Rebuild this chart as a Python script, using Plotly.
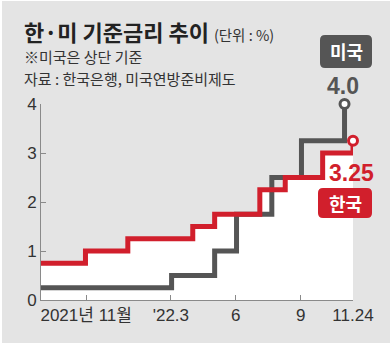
import plotly.graph_objects as go

# ---- data ----
kr_dates = ["2021-08-29", "2021-10-31", "2021-12-30", "2022-04-01", "2022-05-02",
            "2022-07-05", "2022-08-10", "2022-10-02", "2022-11-14"]
kr_rates = [0.75, 1.00, 1.25, 1.50, 1.75, 2.25, 2.50, 3.00, 3.25]

us_dates = ["2021-08-29", "2022-03-02", "2022-05-02", "2022-06-02", "2022-07-22",
            "2022-09-02", "2022-11-02"]
us_rates = [0.25, 0.50, 1.00, 1.75, 2.50, 3.25, 4.00]

x_tickvals = ["2021-11-01", "2022-03-01", "2022-06-01", "2022-09-01", "2022-11-14"]
x_ticktext = ["2021년 11월", "'22.3", "6", "9", "11.24"]
y_tickvals = [0, 1, 2, 3, 4]

title = "한·미 기준금리 추이"
unit = "(단위 : %)"
note = "※미국은 상단 기준"
source = "자료 : 한국은행, 미국연방준비제도"

RED = "#d11f2c"
GRAY = "#555555"
BG = "#e4e4e4"
AX = "#8a8a8a"
NUM_FONT = "Liberation Sans, Arial, Noto Sans CJK KR"
KR_FONT = "Noto Sans CJK KR, Liberation Sans"

W, H = 390, 346
L, R, T, B = 41, 37, 104, 46


def px(x):
    return (x - L) / (W - L - R)


def py(y):
    return (H - B - y) / (H - T - B)


def rrect(x0, y0, x1, y1, r):
    pts = [
        f"M {px(x0 + r)} {py(y0)}",
        f"L {px(x1 - r)} {py(y0)}",
        f"Q {px(x1)} {py(y0)} {px(x1)} {py(y0 + r)}",
        f"L {px(x1)} {py(y1 - r)}",
        f"Q {px(x1)} {py(y1)} {px(x1 - r)} {py(y1)}",
        f"L {px(x0 + r)} {py(y1)}",
        f"Q {px(x0)} {py(y1)} {px(x0)} {py(y1 - r)}",
        f"L {px(x0)} {py(y0 + r)}",
        f"Q {px(x0)} {py(y0)} {px(x0 + r)} {py(y0)}",
        "Z",
    ]
    return " ".join(pts)


fig = go.Figure()

# white area under Korean rate
fig.add_trace(go.Scatter(x=kr_dates, y=kr_rates, mode="lines", line=dict(width=0, shape="hv"),
                         fill="tozeroy", fillcolor="white", hoverinfo="skip", showlegend=False))
# US line
fig.add_trace(go.Scatter(x=us_dates, y=us_rates, mode="lines",
                         line=dict(color=GRAY, width=5, shape="hv"), showlegend=False))
# Korea line
fig.add_trace(go.Scatter(x=kr_dates, y=kr_rates, mode="lines",
                         line=dict(color=RED, width=5, shape="hv"), showlegend=False))
# end markers
fig.add_trace(go.Scatter(x=[us_dates[-1]], y=[us_rates[-1]], mode="markers", cliponaxis=False,
                         marker=dict(size=9, color="white", line=dict(color=GRAY, width=3)),
                         showlegend=False))
fig.add_trace(go.Scatter(x=[kr_dates[-1]], y=[kr_rates[-1]], mode="markers", cliponaxis=False,
                         marker=dict(size=9, color="white", line=dict(color=RED, width=3)),
                         showlegend=False))

shapes = [
    dict(type="rect", xref="paper", yref="paper", x0=px(2), x1=px(392), y0=py(1), y1=py(343),
         fillcolor=BG, line=dict(width=0), layer="below"),
    dict(type="path", xref="paper", yref="paper", path=rrect(320, 35, 372, 68, 5),
         fillcolor=GRAY, line=dict(width=0)),
    dict(type="path", xref="paper", yref="paper", path=rrect(318, 188, 372, 218, 5),
         fillcolor=RED, line=dict(width=0)),
]

annotations = [
    dict(xref="paper", yref="paper", x=px(22), y=py(31), xanchor="left", yanchor="middle",
         text=f"<b>{title}</b> <span style='font-size:14.5px;color:#333'>{unit}</span>",
         showarrow=False, font=dict(family=KR_FONT, size=22, color="#222")),
    dict(xref="paper", yref="paper", x=px(22), y=py(57), xanchor="left", yanchor="middle",
         text=note, showarrow=False, font=dict(family=KR_FONT, size=15, color="#333")),
    dict(xref="paper", yref="paper", x=px(22), y=py(78), xanchor="left", yanchor="middle",
         text=source, showarrow=False, font=dict(family=KR_FONT, size=15, color="#333")),
    dict(xref="paper", yref="paper", x=px(346), y=py(51), xanchor="center", yanchor="middle",
         text="<b>미국</b>", showarrow=False, font=dict(family=KR_FONT, size=18, color="white")),
    dict(xref="paper", yref="paper", x=px(345), y=py(203), xanchor="center", yanchor="middle",
         text="<b>한국</b>", showarrow=False, font=dict(family=KR_FONT, size=18, color="white")),
    dict(xref="paper", yref="paper", x=px(343), y=py(86), xanchor="center", yanchor="middle",
         text=f"<b>{us_rates[-1]:.1f}</b>", showarrow=False,
         font=dict(family=NUM_FONT, size=23, color=GRAY)),
    dict(xref="paper", yref="paper", x=px(351), y=py(173), xanchor="center", yanchor="middle",
         text=f"<b>{kr_rates[-1]:.2f}</b>", showarrow=False,
         font=dict(family=NUM_FONT, size=23, color=RED)),
]

fig.update_layout(
    width=W, height=H,
    margin=dict(l=L, r=R, t=T, b=B),
    paper_bgcolor="white",
    plot_bgcolor="rgba(0,0,0,0)",
    shapes=shapes,
    annotations=annotations,
    xaxis=dict(type="date", range=["2021-08-29", "2022-11-14"],
               tickvals=x_tickvals, ticktext=x_ticktext,
               showline=True, linecolor=AX, linewidth=1,
               ticks="inside", ticklen=5, tickcolor=AX, tickwidth=1,
               showgrid=False, zeroline=False,
               tickfont=dict(family=NUM_FONT, size=17, color="#333")),
    yaxis=dict(range=[0, 4], tickvals=y_tickvals,
               showline=True, linecolor=AX, linewidth=1,
               ticks="inside", ticklen=5, tickcolor=AX, tickwidth=1,
               showgrid=False, zeroline=False,
               tickfont=dict(family=NUM_FONT, size=17, color="#333")),
)

fig.write_html("out.html")
